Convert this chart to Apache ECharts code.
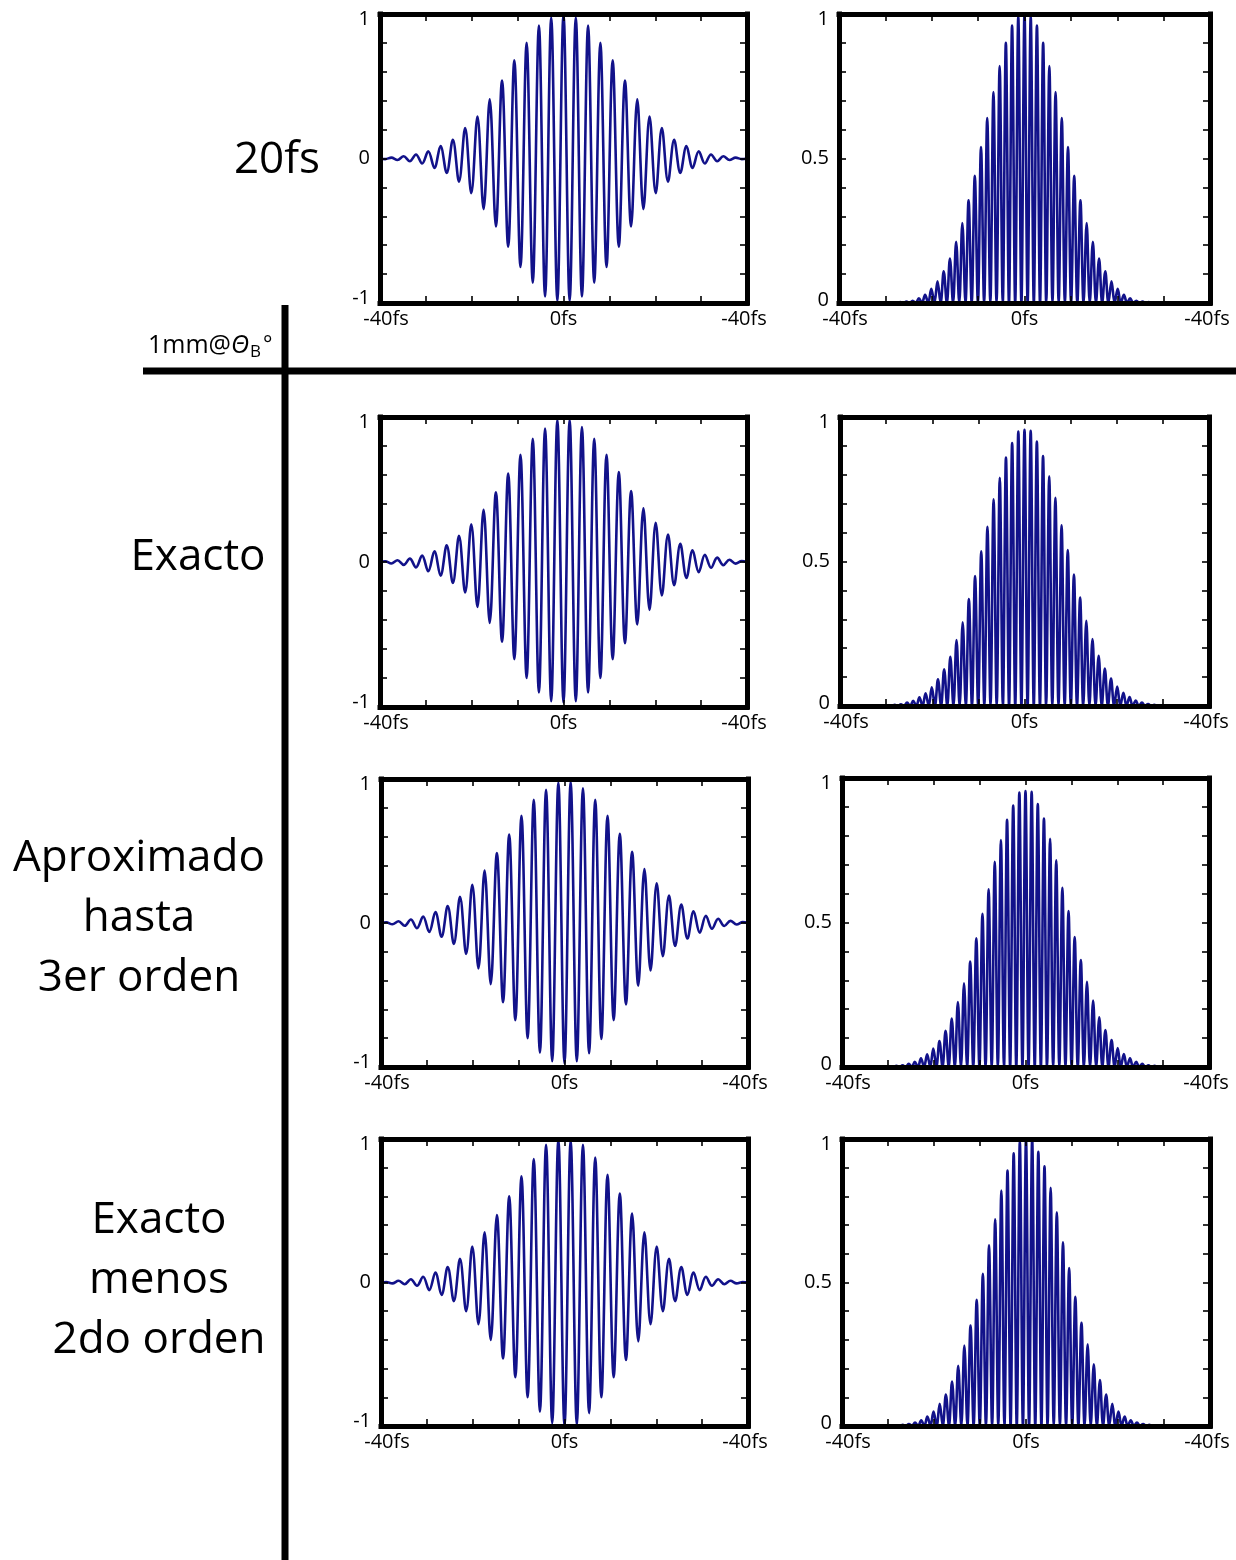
<!DOCTYPE html>
<html><head><meta charset="utf-8">
<script src="https://cdn.jsdelivr.net/npm/echarts@6/dist/echarts.min.js"></script>
<style>html,body{margin:0;padding:0;background:#fff}#c{width:1236px;height:1560px}</style>
</head><body><div id="c"></div>
<script>
// time (fs) of the field extrema = intensity peaks
const extremaT = [-38.86,-37.52,-36.18,-34.84,-33.50,-32.16,-30.82,-29.48,-28.14,-26.80,-25.46,-24.12,-22.78,-21.44,-20.10,-18.76,-17.42,-16.08,-14.74,-13.40,-12.06,-10.72,-9.38,-8.04,-6.70,-5.36,-4.02,-2.68,-1.34,0,1.34,2.68,4.02,5.36,6.70,8.04,9.38,10.72,12.06,13.40,14.74,16.08,17.42,18.76,20.10,21.44,22.78,24.12,25.46,26.80,28.14,29.48,30.82,32.16,33.50,34.84,36.18,37.52,38.86];
// time (fs) where the intensity touches zero
const minimaT = [-38.19,-36.85,-35.51,-34.17,-32.83,-31.49,-30.15,-28.81,-27.47,-26.13,-24.79,-23.45,-22.11,-20.77,-19.43,-18.09,-16.75,-15.41,-14.07,-12.73,-11.39,-10.05,-8.71,-7.37,-6.03,-4.69,-3.35,-2.01,-0.67,0.67,2.01,3.35,4.69,6.03,7.37,8.71,10.05,11.39,12.73,14.07,15.41,16.75,18.09,19.43,20.77,22.11,23.45,24.79,26.13,27.47,28.81,30.15,31.49,32.83,34.17,35.51,36.85,38.19];

// field values at the extrema (left column)
const field20fs = [-0.004,0.006,-0.010,0.016,-0.019,0.028,-0.035,0.050,-0.065,0.086,-0.100,0.130,-0.160,0.210,-0.240,0.290,-0.350,0.410,-0.470,0.540,-0.610,0.680,-0.750,0.800,-0.860,0.920,-0.955,0.975,-0.985,1.000,-0.985,0.975,-0.955,0.920,-0.860,0.800,-0.750,0.680,-0.610,0.540,-0.470,0.410,-0.350,0.290,-0.240,0.210,-0.160,0.130,-0.100,0.086,-0.065,0.050,-0.035,0.028,-0.019,0.016,-0.010,0.006,-0.004];
const fieldExacto = [0.005,-0.010,0.012,-0.020,0.023,-0.037,0.044,-0.064,0.074,-0.094,0.115,-0.145,0.180,-0.210,0.260,-0.310,0.360,-0.420,0.480,-0.550,0.610,-0.670,0.740,-0.800,0.850,-0.900,0.920,-0.960,0.980,-0.970,0.980,-0.960,0.930,-0.900,0.850,-0.800,0.740,-0.670,0.620,-0.560,0.490,-0.430,0.370,-0.330,0.270,-0.230,0.190,-0.160,0.125,-0.110,0.080,-0.070,0.050,-0.040,0.030,-0.022,0.016,-0.011,0.006];
const fieldAprox = [0.005,-0.009,0.012,-0.019,0.024,-0.036,0.045,-0.063,0.076,-0.095,0.118,-0.146,0.182,-0.215,0.265,-0.315,0.365,-0.425,0.485,-0.550,0.615,-0.675,0.745,-0.800,0.855,-0.900,0.925,-0.960,0.975,-0.975,0.980,-0.960,0.935,-0.905,0.855,-0.805,0.745,-0.675,0.620,-0.565,0.495,-0.435,0.375,-0.330,0.275,-0.230,0.190,-0.160,0.128,-0.108,0.082,-0.068,0.050,-0.040,0.030,-0.021,0.015,-0.010,0.006];
const fieldMenos2do = [0.004,-0.006,0.012,-0.012,0.023,-0.023,0.040,-0.053,0.070,-0.087,0.108,-0.130,0.165,-0.200,0.250,-0.290,0.350,-0.400,0.470,-0.530,0.600,-0.660,0.740,-0.800,0.860,-0.900,0.960,-0.980,1.000,-1.000,0.990,-0.990,0.960,-0.910,0.870,-0.800,0.750,-0.660,0.620,-0.540,0.480,-0.410,0.350,-0.290,0.250,-0.200,0.165,-0.130,0.108,-0.087,0.070,-0.053,0.040,-0.023,0.023,-0.012,0.012,-0.006,0.004];

// intensity peak values (right column)
const int20fs = [0.000,0.000,0.000,0.000,0.001,0.001,0.001,0.002,0.002,0.003,0.005,0.008,0.016,0.028,0.049,0.075,0.110,0.154,0.212,0.277,0.355,0.440,0.540,0.640,0.730,0.820,0.900,0.960,0.990,1.000,0.990,0.960,0.900,0.820,0.730,0.640,0.540,0.440,0.355,0.277,0.212,0.154,0.110,0.075,0.049,0.028,0.016,0.008,0.005,0.003,0.002,0.002,0.001,0.001,0.001,0.000,0.000,0.000,0.000];
const intExacto = [0.000,0.000,0.001,0.001,0.001,0.002,0.002,0.002,0.004,0.006,0.012,0.018,0.030,0.044,0.065,0.092,0.127,0.170,0.228,0.290,0.370,0.450,0.535,0.620,0.715,0.790,0.860,0.910,0.950,0.956,0.952,0.915,0.865,0.795,0.720,0.625,0.540,0.455,0.375,0.295,0.232,0.174,0.130,0.095,0.067,0.046,0.031,0.019,0.012,0.007,0.004,0.002,0.002,0.001,0.001,0.001,0.000,0.000,0.000];
const intAprox = [0.000,0.000,0.001,0.001,0.001,0.002,0.002,0.002,0.004,0.006,0.011,0.018,0.030,0.044,0.064,0.090,0.125,0.168,0.225,0.290,0.365,0.445,0.530,0.615,0.710,0.785,0.855,0.905,0.950,0.955,0.952,0.910,0.860,0.790,0.715,0.620,0.540,0.450,0.370,0.295,0.230,0.172,0.128,0.093,0.066,0.045,0.030,0.018,0.011,0.006,0.004,0.002,0.002,0.001,0.001,0.001,0.000,0.000,0.000];
const intMenos2do = [0.000,0.000,0.000,0.000,0.001,0.001,0.001,0.002,0.002,0.004,0.007,0.012,0.020,0.033,0.050,0.077,0.110,0.155,0.210,0.280,0.350,0.440,0.530,0.630,0.720,0.820,0.890,0.950,0.990,1.000,1.000,0.955,0.905,0.830,0.745,0.640,0.550,0.450,0.360,0.285,0.215,0.160,0.110,0.077,0.050,0.033,0.020,0.012,0.007,0.004,0.002,0.002,0.001,0.001,0.001,0.000,0.000,0.000,0.000];

// tick labels
const xTickLabels = {'-40': '-40fs', '0': '0fs', '40': '-40fs'};
const fieldYLabels = {'-1': '-1', '0': '0', '1': '1'};
const intensityYLabels = {'0': '0', '0.5': '0.5', '1': '1'};
const rowTitles = ['20fs', 'Exacto', 'Aproximado\nhasta\n3er orden', 'Exacto\nmenos\n2do orden'];
const headerTitle = ['1mm@', 'Θ', 'B', '°'];

const fieldRows = [field20fs, fieldExacto, fieldAprox, fieldMenos2do];
const intensityRows = [int20fs, intExacto, intAprox, intMenos2do];

function fieldData(vals) {
  const d = [[-40, 0]];
  for (let i = 0; i < extremaT.length; i++) d.push([extremaT[i], vals[i]]);
  d.push([40, 0]);
  return d;
}
function intensityData(vals) {
  const d = [[-40, 0]];
  for (let i = 0; i < extremaT.length; i++) {
    d.push([extremaT[i], vals[i]]);
    if (i < minimaT.length) d.push([minimaT[i], 0]);
  }
  d.push([40, 0]);
  return d;
}

const FONT = '"Open Sans", "Noto Sans", sans-serif';
const LINE = '#12128a';
const key = v => String(Math.round(v * 1000) / 1000);

// plot frames [left, top, width, height]
const frames = [
  [[380, 14, 367, 289], [839, 14, 371, 289]],
  [[380, 417, 367, 290], [840, 417, 369, 289]],
  [[381, 779, 367, 288], [842, 778, 367, 289]],
  [[381, 1139, 367, 287], [842, 1139, 368, 287]]
];

const grid = [], xAxis = [], yAxis = [], series = [];
const axisLine = {show: true, onZero: false, lineStyle: {color: '#000', width: 5, cap: 'square'}};
const axisTick = {show: true, inside: true, length: 7, lineStyle: {color: '#000', width: 1.6}};
const labelBase = {color: '#000', fontSize: 20, fontFamily: FONT};

for (let r = 0; r < 4; r++) {
  for (let c = 0; c < 2; c++) {
    const gi = grid.length;
    const f = frames[r][c];
    grid.push({left: f[0], top: f[1], width: f[2], height: f[3], containLabel: false, outerBoundsMode: 'none'});
    const isField = c === 0;
    xAxis.push({
      type: 'value', gridIndex: gi, position: 'bottom', min: -40, max: 40, interval: 10, z: 5,
      axisLine, axisTick, splitLine: {show: false},
      axisLabel: Object.assign({}, labelBase, {
        margin: 6, showMinLabel: true, showMaxLabel: true,
        formatter: v => {
          const t = xTickLabels[key(v)];
          if (!t) return '';
          if (v < 0) return '{l|' + t + '}';
          if (v > 0) return '{r|' + t + '}';
          return '{m|' + t + '}';
        },
        rich: {
          l: Object.assign({}, labelBase, {padding: [0, 0, 0, 12]}),
          r: Object.assign({}, labelBase, {padding: [0, 6, 0, 0]}),
          m: Object.assign({}, labelBase)
        }
      })
    });
    xAxis.push({
      type: 'value', gridIndex: gi, position: 'top', min: -40, max: 40, interval: 10, z: 5,
      axisLine, axisTick, splitLine: {show: false}, axisLabel: {show: false}
    });
    const labels = isField ? fieldYLabels : intensityYLabels;
    const ymin = isField ? -1 : 0;
    yAxis.push({
      type: 'value', gridIndex: gi, position: 'left', min: ymin, max: 1, interval: isField ? 0.2 : 0.1, z: 5,
      axisLine, axisTick, splitLine: {show: false},
      axisLabel: Object.assign({}, labelBase, {
        margin: 10, showMinLabel: true, showMaxLabel: true,
        formatter: v => {
          const t = labels[key(v)];
          if (!t) return '';
          if (Math.abs(v - 1) < 1e-6) return '{hi|' + t + '}';
          if (Math.abs(v - ymin) < 1e-6) return '{lo|' + t + '}';
          return '{m|' + t + '}';
        },
        rich: {
          hi: Object.assign({}, labelBase, {padding: [10, 0, 0, 0]}),
          lo: Object.assign({}, labelBase, {padding: [0, 0, isField ? 10 : 6, 0]}),
          m: Object.assign({}, labelBase)
        }
      })
    });
    yAxis.push({
      type: 'value', gridIndex: gi, position: 'right', min: ymin, max: 1, interval: isField ? 0.2 : 0.1, z: 5,
      axisLine, axisTick, splitLine: {show: false}, axisLabel: {show: false}
    });
    series.push({
      type: 'line', xAxisIndex: 2 * gi, yAxisIndex: 2 * gi, z: 2,
      data: isField ? fieldData(fieldRows[r]) : intensityData(intensityRows[r]),
      smooth: 0.36, showSymbol: false, symbol: 'none', silent: true,
      lineStyle: {color: LINE, width: 2.6}
    });
  }
}

const titleStyle = (txt, x, y, lh) => ({
  type: 'text', x: x, y: y, z: 10,
  style: {
    text: txt, fill: '#000', fontSize: 44, fontFamily: FONT, lineHeight: lh || 60,
    align: 'center', verticalAlign: 'middle', textAlign: 'center', textVerticalAlign: 'middle'
  }
});

const graphic = [
  {type: 'line', z: 10, shape: {x1: 143, y1: 371, x2: 1236, y2: 371}, style: {stroke: '#000', lineWidth: 7}},
  {type: 'line', z: 10, shape: {x1: 285, y1: 305, x2: 285, y2: 1560}, style: {stroke: '#000', lineWidth: 7}},
  titleStyle(rowTitles[0], 277, 160),
  titleStyle(rowTitles[1], 198, 557),
  titleStyle(rowTitles[2], 139, 918),
  titleStyle(rowTitles[3], 159, 1280),
  {
    type: 'text', x: 148, y: 346, z: 10,
    style: {
      text: '{a|' + headerTitle[0] + '}{t|' + headerTitle[1] + '}{b|' + headerTitle[2] + '}{c|' + headerTitle[3] + '}',
      align: 'left', verticalAlign: 'middle', textAlign: 'left', textVerticalAlign: 'middle',
      rich: {
        a: {fontSize: 25, fontFamily: FONT, fill: '#000', color: '#000'},
        t: {fontSize: 25, fontFamily: FONT, fontStyle: 'italic', fill: '#000', color: '#000'},
        b: {fontSize: 17, fontFamily: FONT, fill: '#000', color: '#000', padding: [12, 0, 0, 1]},
        c: {fontSize: 22, fontFamily: FONT, fill: '#000', color: '#000', padding: [0, 0, 2, 2]}
      }
    }
  }
];

const chart = echarts.init(document.getElementById('c'), null, {renderer: 'canvas'});
chart.setOption({
  animation: false,
  backgroundColor: '#fff',
  grid, xAxis, yAxis, series, graphic
});
</script>
</body></html>
